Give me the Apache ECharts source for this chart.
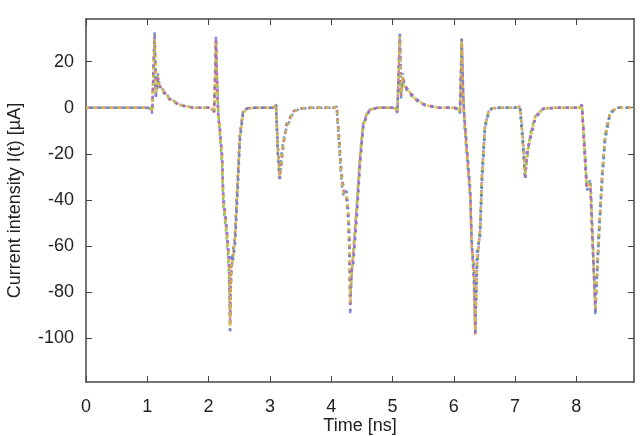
<!DOCTYPE html>
<html>
<head>
<meta charset="utf-8">
<script src="https://cdn.jsdelivr.net/npm/echarts@6/dist/echarts.min.js"></script>
<style>
html, body { margin: 0; padding: 0; background: #fff; }
#chart { width: 644px; height: 436px; }
</style>
</head>
<body>
<div id="chart"></div>
<script>
// sample times in ns (shared by all traces)
const timeNs = [
    0, 0.5, 1.00, 1.06, 1.08, 1.10, 1.12, 1.14, 1.17, 1.19, 1.25, 1.36, 1.53, 1.75,
    2.00, 2.06, 2.09, 2.11, 2.12, 2.14, 2.16, 2.18, 2.22, 2.24, 2.29, 2.32, 2.34, 2.35, 2.37, 2.40, 2.43, 2.48, 2.51, 2.56, 2.62, 2.75,
    3.05, 3.10, 3.13, 3.16, 3.19, 3.22, 3.27, 3.38, 3.49, 3.70,
    4.05, 4.09, 4.13, 4.17, 4.20, 4.25, 4.28, 4.30, 4.31, 4.33, 4.36, 4.42, 4.47, 4.52, 4.58, 4.63, 4.75,
    5.00, 5.06, 5.08, 5.10, 5.12, 5.14, 5.17, 5.19, 5.25, 5.36, 5.53, 5.75,
    6.00, 6.07, 6.10, 6.12, 6.13, 6.15, 6.17, 6.21, 6.27, 6.29, 6.33, 6.35, 6.38, 6.43, 6.46, 6.51, 6.57, 6.62, 6.75,
    7.00, 7.08, 7.12, 7.165, 7.19, 7.25, 7.33, 7.46, 7.65,
    8.05, 8.09, 8.145, 8.17, 8.23, 8.255, 8.31, 8.36, 8.42, 8.47, 8.55, 8.66, 8.94
];

// current traces in uA
const traceA = [
    0, 0, 0, -0.5, -2, 15, 32, 5, 14, 10, 7.7, 4, 1.2, 0,
    0, -0.5, -2, 18, 30, 10, -4, -8, -22, -40, -51, -62, -70, -97, -68, -64, -58, -30, -13, -2.4, -0.3, 0,
    0, 1.2, -19, -31, -22, -15, -8, -1.7, -0.3, 0,
    0, 0.5, -15, -31, -36, -38, -47, -60, -88, -72, -66, -44, -23, -8, -3, -1, 0,
    0, -0.5, -2, 15, 32, 5, 14, 10, 7.7, 4, 1.2, 0,
    0, -0.5, -2, 18, 30, 8, -4, -18, -38, -58, -72, -99, -66, -52, -30, -8, -1.7, -0.3, 0,
    0, 0.4, -12, -31, -21, -12.6, -4, -0.4, 0,
    0, 1.2, -24, -35, -33, -51, -89, -59, -30, -12.6, -2.4, 0, 0
];
const traceB = [
    0, 0, 0, -0.3, -1.5, 12, 29, 7, 12, 9, 7, 3.6, 1, 0,
    0, -0.3, -1.5, 15, 28, 12, -2, -10, -25, -42, -55, -66, -78, -90, -72, -62, -55, -27, -11, -2, -0.2, 0,
    0, 1, -16, -28, -25, -17, -7, -1.5, -0.2, 0,
    0, 0.3, -12, -28, -34, -40, -50, -66, -82, -75, -62, -40, -20, -7, -2.5, -0.8, 0,
    0, -0.3, -1.5, 12, 30, 7, 12, 9, 7, 3.6, 1, 0,
    0, -0.3, -1.5, 15, 28, 10, -2, -15, -35, -55, -75, -93, -70, -50, -27, -7, -1.5, -0.2, 0,
    0, 0.6, -10, -28, -24, -11, -3.5, -0.3, 0,
    0, 1, -20, -33, -36, -55, -84, -62, -28, -11, -2, 0, 0
];
const traceC = [
    0, 0, 0, -0.6, -2.5, 17, 33, 4, 15, 11, 8, 4.3, 1.3, 0,
    0, -0.6, -2.5, 20, 31, 8, -6, -7, -20, -38, -50, -60, -66, -98, -64, -66, -60, -33, -15, -2.8, -0.4, 0,
    0, 1.4, -21, -32, -20, -14, -9, -2, -0.4, 0,
    0, 0.6, -17, -33, -38, -36, -45, -58, -90, -70, -68, -47, -25, -9, -3.3, -1.2, 0,
    0, -0.6, -2.5, 17, 33, 4, 15, 11, 8, 4.3, 1.3, 0,
    0, -0.6, -2.5, 20, 31, 6, -6, -20, -40, -60, -68, -98, -62, -56, -33, -9, -2, -0.4, 0,
    0, 0.3, -14, -31, -19, -13.5, -4.5, -0.5, 0,
    0, 1.4, -26, -36, -31, -48, -90, -56, -32, -14, -2.8, 0, 0
];
const traceD = [
    0, 0, 0, -0.4, -1.8, 14, 31, 6, 13, 10, 7.4, 3.8, 1.1, 0,
    0, -0.4, -1.8, 17, 29, 11, -3, -9, -23, -41, -53, -64, -74, -94, -70, -63, -56, -29, -12, -2.2, -0.3, 0,
    0, 1.1, -18, -30, -23, -16, -7.5, -1.6, -0.3, 0,
    0, 0.4, -14, -30, -35, -39, -48, -63, -86, -73, -64, -42, -22, -7.5, -2.8, -0.9, 0,
    0, -0.4, -1.8, 14, 31, 6, 13, 10, 7.4, 3.8, 1.1, 0,
    0, -0.4, -1.8, 17, 29, 9, -3, -17, -37, -57, -78, -96, -68, -53, -29, -7.5, -1.6, -0.3, 0,
    0, 0.5, -11, -30, -22, -12, -3.8, -0.4, 0,
    0, 1.1, -22, -34, -34, -53, -87, -60, -29, -12, -2.2, 0, 0
];
const traceE = [
    0, 0, 0, -0.5, -2.2, 16, 30, 6, 14, 9.5, 7.8, 4.1, 1.2, 0,
    0, -0.5, -2.2, 19, 29, 9, -5, -9, -21, -39, -52, -61, -68, -95, -66, -67, -57, -31, -14, -2.6, -0.3, 0,
    0, 1.2, -20, -30, -21, -15, -8.5, -1.8, -0.3, 0,
    0, 0.5, -16, -32, -37, -37, -46, -62, -85, -71, -65, -45, -24, -8.5, -3, -1, 0,
    0, -0.5, -2.2, 16, 31, 6, 14, 9.5, 7.8, 4.1, 1.2, 0,
    0, -0.5, -2.2, 19, 29, 7, -5, -19, -39, -59, -70, -97, -64, -54, -31, -8.5, -1.8, -0.3, 0,
    0, 0.4, -13, -29, -20, -13, -4.2, -0.4, 0,
    0, 1.2, -25, -34, -32, -50, -88, -58, -31, -13, -2.6, 0, 0
];

const xTicks = [0, 1, 2, 3, 4, 5, 6, 7, 8];
const yTicks = [-100, -80, -60, -40, -20, 0, 20];

const traces = [traceA, traceB, traceC, traceD, traceE];
const colors = ['#e8684a', '#72b84a', '#5a7fd6', '#b466c8', '#d8c040'];

const font = 'Liberation Sans';
const boxLine = { show: true, onZero: false, lineStyle: { color: '#444', width: 1.5 } };

function xAx(pos, main) {
    return {
        type: 'value', position: pos, min: 0, max: 8.94,
        axisLine: boxLine,
        axisTick: { show: true, inside: true, length: 6, customValues: xTicks, lineStyle: { color: '#444' } },
        axisLabel: main ? { customValues: xTicks, fontSize: 18, color: '#222', margin: 16, fontFamily: font } : { show: false },
        splitLine: { show: false },
        name: main ? 'Time [ns]' : '', nameLocation: 'middle', nameGap: 35, nameMoveOverlap: false,
        nameTextStyle: { fontSize: 18, color: '#222', fontFamily: font }
    };
}
function yAx(pos, main) {
    return {
        type: 'value', position: pos, min: -119, max: 38.5,
        axisLine: boxLine,
        axisTick: { show: true, inside: true, length: 6, customValues: yTicks, lineStyle: { color: '#444' } },
        axisLabel: main ? { customValues: yTicks, fontSize: 18, color: '#222', margin: 12, fontFamily: font } : { show: false },
        splitLine: { show: false },
        name: main ? 'Current intensity I(t) [\u00b5A]' : '', nameLocation: 'middle', nameGap: 62, nameRotate: 90,
        nameMoveOverlap: false,
        nameTextStyle: { fontSize: 18, color: '#222', fontFamily: font }
    };
}

const chart = echarts.init(document.getElementById('chart'));
chart.setOption({
    animation: false,
    backgroundColor: '#fff',
    grid: { left: 86, top: 19, width: 548, height: 363, containLabel: false, outerBoundsMode: 'none' },
    xAxis: [xAx('bottom', true), xAx('top', false)],
    yAxis: [yAx('left', true), yAx('right', false)],
    series: traces.map((tr, i) => ({
        type: 'line',
        data: timeNs.map((t, k) => [t, tr[k]]),
        showSymbol: false,
        lineStyle: { color: colors[i], width: 2.5, type: [3, 5], dashOffset: i * 2, opacity: 0.85 },
        z: 2
    }))
});
</script>
</body>
</html>
